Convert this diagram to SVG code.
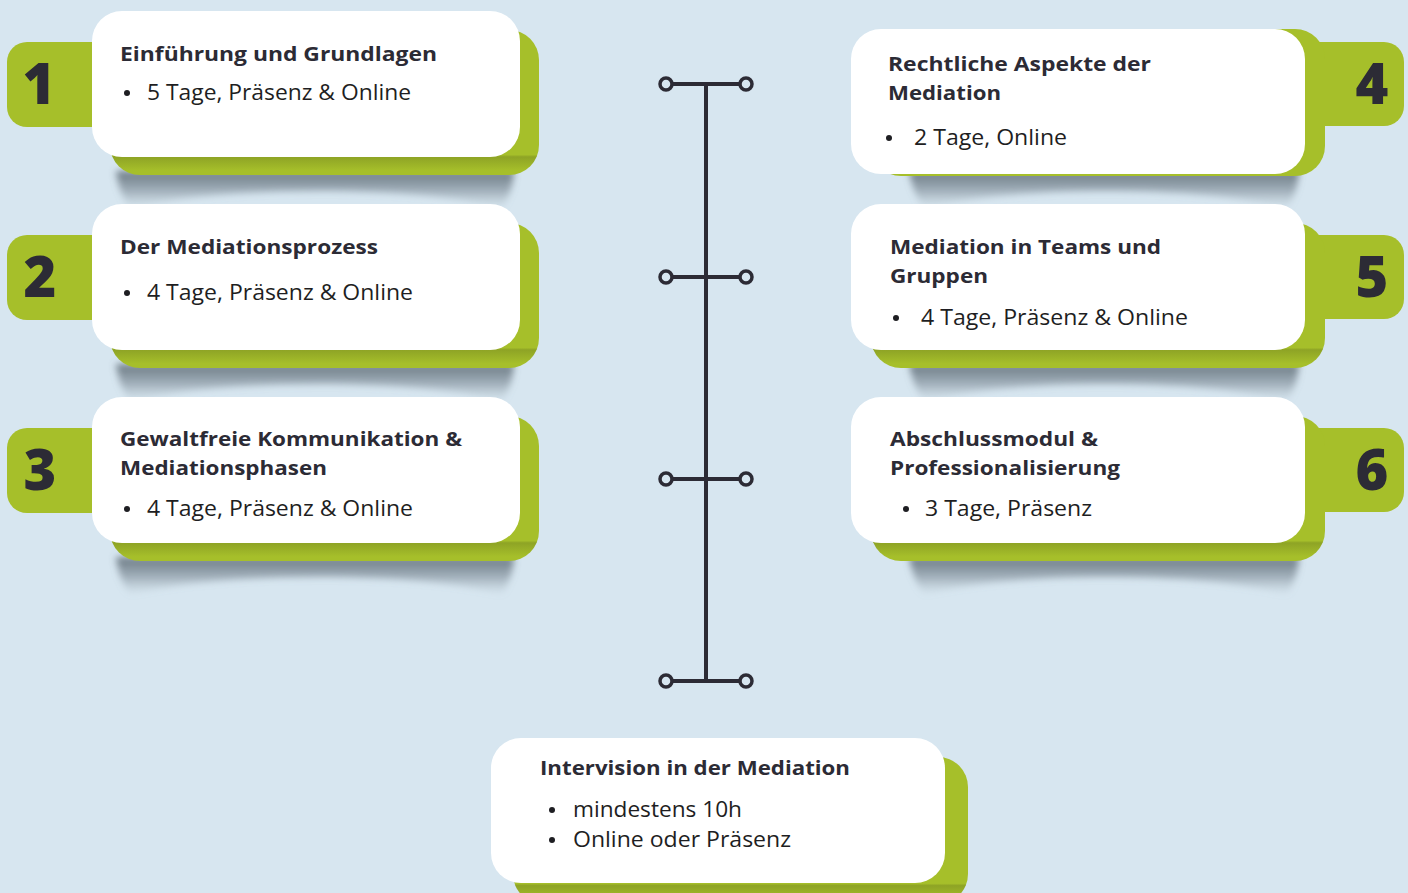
<svg xmlns="http://www.w3.org/2000/svg" width="1408" height="893" viewBox="0 0 1408 893">
<defs>
<style>
.bg{fill:#d7e6f0}
.green{fill:#a6bf2a}
.white{fill:#ffffff}
.inner{fill:url(#innerShade)}
.title{font-family:"Open Sans","Liberation Sans",sans-serif;font-weight:700;font-size:20px;fill:#2c2b35}
.item{font-family:"Open Sans","Liberation Sans",sans-serif;font-weight:400;font-size:21px;fill:#1e1e22}
.num{font-family:"Open Sans","Liberation Sans",sans-serif;font-weight:800;font-size:56px;fill:#2c2b35;text-anchor:middle}
.dot{fill:#1e1e22}
.shadow{fill:url(#shadowGrad);filter:url(#blur)}
.tl{stroke:#2c2b35;stroke-width:4;fill:none}
.tlc{stroke:#2c2b35;stroke-width:3.5;fill:#d7e6f0}
</style>
<linearGradient id="innerShade" x1="0" y1="0" x2="0" y2="1">
<stop offset="0" stop-color="#56631a" stop-opacity="0"/>
<stop offset="0.86" stop-color="#56631a" stop-opacity="0"/>
<stop offset="0.875" stop-color="#56631a" stop-opacity="0.3"/>
<stop offset="0.97" stop-color="#56631a" stop-opacity="0"/>
</linearGradient>
<linearGradient id="shadowGrad" x1="0" y1="0" x2="0" y2="1">
<stop offset="0" stop-color="#56636d" stop-opacity="0.85"/>
<stop offset="0.5" stop-color="#6f7d88" stop-opacity="0.55"/>
<stop offset="1" stop-color="#9aa9b4" stop-opacity="0"/>
</linearGradient>
<filter id="blur" x="-10%" y="-60%" width="120%" height="220%">
<feGaussianBlur stdDeviation="3.5"/>
</filter>
<path id="shL" d="M6,-4 L404,-4 C403,12 398,24 392,34 C320,10 100,10 20,34 C13,24 8,12 6,-4 Z"/>
<path id="shR" d="M38,-4 L428,-4 C427,12 422,24 416,34 C340,10 130,10 53,34 C46,24 41,12 38,-4 Z"/>
</defs>
<rect class="bg" x="0" y="0" width="1408" height="893"/>

<g id="connectors">
<line class="tl" x1="706" y1="84" x2="706" y2="681"/>
<line class="tl" x1="666" y1="84" x2="746" y2="84"/>
<line class="tl" x1="666" y1="277" x2="746" y2="277"/>
<line class="tl" x1="666" y1="479" x2="746" y2="479"/>
<line class="tl" x1="666" y1="681" x2="746" y2="681"/>
<circle class="tlc" cx="666" cy="84" r="6"/><circle class="tlc" cx="746" cy="84" r="6"/>
<circle class="tlc" cx="666" cy="277" r="6"/><circle class="tlc" cx="746" cy="277" r="6"/>
<circle class="tlc" cx="666" cy="479" r="6"/><circle class="tlc" cx="746" cy="479" r="6"/>
<circle class="tlc" cx="666" cy="681" r="6"/><circle class="tlc" cx="746" cy="681" r="6"/>
</g>

<g id="node1">
<use href="#shL" class="shadow" x="110" y="175"/>
<rect class="green" x="7" y="42" width="110" height="85" rx="20"/>
<rect class="green" x="110" y="30" width="429" height="145" rx="30"/>
<rect class="inner" x="110" y="30" width="429" height="145" rx="30"/>
<rect class="white" x="92" y="11" width="428" height="146" rx="30"/>
<text class="num" x="39" y="104">1</text>
<text class="title" x="120" y="61" textLength="317" lengthAdjust="spacingAndGlyphs">Einführung und Grundlagen</text>
<circle class="dot" cx="127" cy="93" r="3"/>
<text class="item" x="147" y="100" textLength="264" lengthAdjust="spacingAndGlyphs">5 Tage, Präsenz &amp; Online</text>
</g>

<g id="node2">
<use href="#shL" class="shadow" x="110" y="368"/>
<rect class="green" x="7" y="235" width="110" height="85" rx="20"/>
<rect class="green" x="110" y="223" width="429" height="145" rx="30"/>
<rect class="inner" x="110" y="223" width="429" height="145" rx="30"/>
<rect class="white" x="92" y="204" width="428" height="146" rx="30"/>
<text class="num" x="40" y="297">2</text>
<text class="title" x="120" y="254" textLength="258" lengthAdjust="spacingAndGlyphs">Der Mediationsprozess</text>
<circle class="dot" cx="127" cy="293" r="3"/>
<text class="item" x="147" y="300" textLength="266" lengthAdjust="spacingAndGlyphs">4 Tage, Präsenz &amp; Online</text>
</g>

<g id="node3">
<use href="#shL" class="shadow" x="110" y="561"/>
<rect class="green" x="7" y="428" width="110" height="85" rx="20"/>
<rect class="green" x="110" y="416" width="429" height="145" rx="30"/>
<rect class="inner" x="110" y="416" width="429" height="145" rx="30"/>
<rect class="white" x="92" y="397" width="428" height="146" rx="30"/>
<text class="num" x="40" y="490">3</text>
<text class="title" x="120" y="446" textLength="342" lengthAdjust="spacingAndGlyphs">Gewaltfreie Kommunikation &amp;</text>
<text class="title" x="120" y="475" textLength="207" lengthAdjust="spacingAndGlyphs">Mediationsphasen</text>
<circle class="dot" cx="127" cy="509" r="3"/>
<text class="item" x="147" y="516" textLength="266" lengthAdjust="spacingAndGlyphs">4 Tage, Präsenz &amp; Online</text>
</g>

<g id="node4">
<use href="#shR" class="shadow" x="871" y="175"/>
<rect class="green" x="1295" y="42" width="109" height="84" rx="20"/>
<rect class="green" x="871" y="29" width="454" height="147" rx="30"/>
<rect class="white" x="851" y="29" width="454" height="145" rx="30"/>
<text class="num" x="1372" y="104">4</text>
<text class="title" x="888" y="71" textLength="263" lengthAdjust="spacingAndGlyphs">Rechtliche Aspekte der</text>
<text class="title" x="888" y="100" textLength="113" lengthAdjust="spacingAndGlyphs">Mediation</text>
<circle class="dot" cx="889" cy="138" r="3"/>
<text class="item" x="914" y="145" textLength="153" lengthAdjust="spacingAndGlyphs">2 Tage, Online</text>
</g>

<g id="node5">
<use href="#shR" class="shadow" x="871" y="368"/>
<rect class="green" x="1295" y="235" width="109" height="84" rx="20"/>
<rect class="green" x="871" y="223" width="454" height="145" rx="30"/>
<rect class="inner" x="871" y="223" width="454" height="145" rx="30"/>
<rect class="white" x="851" y="204" width="454" height="146" rx="30"/>
<text class="num" x="1372" y="297">5</text>
<text class="title" x="890" y="254" textLength="271" lengthAdjust="spacingAndGlyphs">Mediation in Teams und</text>
<text class="title" x="890" y="283" textLength="98" lengthAdjust="spacingAndGlyphs">Gruppen</text>
<circle class="dot" cx="896" cy="318" r="3"/>
<text class="item" x="921" y="325" textLength="267" lengthAdjust="spacingAndGlyphs">4 Tage, Präsenz &amp; Online</text>
</g>

<g id="node6">
<use href="#shR" class="shadow" x="871" y="561"/>
<rect class="green" x="1295" y="428" width="109" height="84" rx="20"/>
<rect class="green" x="871" y="416" width="454" height="145" rx="30"/>
<rect class="inner" x="871" y="416" width="454" height="145" rx="30"/>
<rect class="white" x="851" y="397" width="454" height="146" rx="30"/>
<text class="num" x="1372" y="490">6</text>
<text class="title" x="890" y="446" textLength="208" lengthAdjust="spacingAndGlyphs">Abschlussmodul &amp;</text>
<text class="title" x="890" y="475" textLength="230" lengthAdjust="spacingAndGlyphs">Professionalisierung</text>
<circle class="dot" cx="906" cy="509" r="3"/>
<text class="item" x="925" y="516" textLength="167" lengthAdjust="spacingAndGlyphs">3 Tage, Präsenz</text>
</g>

<g id="node7">
<rect class="green" x="513" y="757" width="455" height="147" rx="30"/>
<rect class="inner" x="513" y="757" width="455" height="147" rx="30"/>
<rect class="white" x="491" y="738" width="454" height="145" rx="30"/>
<text class="title" x="540" y="775" textLength="310" lengthAdjust="spacingAndGlyphs">Intervision in der Mediation</text>
<circle class="dot" cx="552" cy="810" r="3"/>
<text class="item" x="573" y="817" textLength="169" lengthAdjust="spacingAndGlyphs">mindestens 10h</text>
<circle class="dot" cx="552" cy="840" r="3"/>
<text class="item" x="573" y="847" textLength="218" lengthAdjust="spacingAndGlyphs">Online oder Präsenz</text>
</g>
</svg>
